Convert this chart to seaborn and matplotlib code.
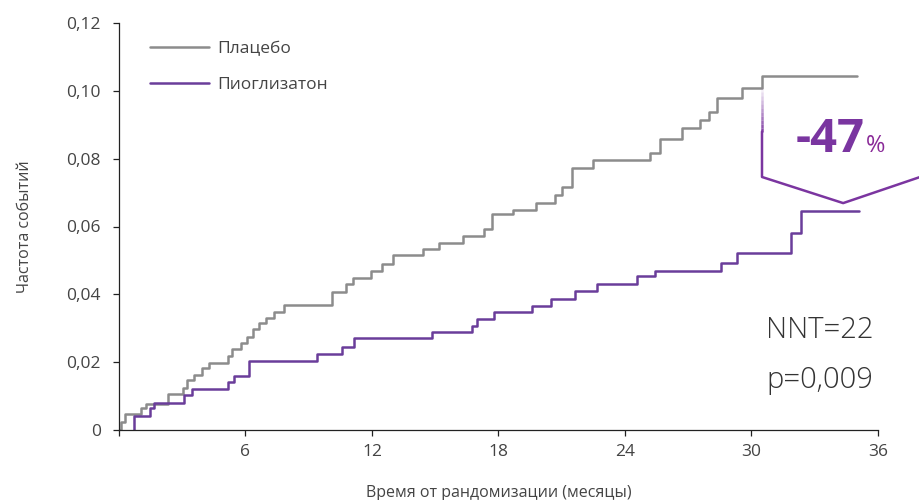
import numpy as np
import pandas as pd
import seaborn as sns
import matplotlib.pyplot as plt

# ================= DATA =================
placebo_t = [0, 0.1, 0.28, 1.04, 1.28, 2.32, 3.04, 3.22, 3.56, 3.94, 4.27, 5.17, 5.36, 5.79,
             6.07, 6.36, 6.64, 6.97, 7.35, 7.83, 10.1, 10.75, 11.1, 11.95, 12.5, 13.0, 14.4,
             15.2, 16.3, 17.3, 17.7, 18.7, 19.8, 20.7, 21.0, 21.5, 22.5, 25.2, 25.66, 26.7,
             27.56, 27.99, 28.37, 29.55, 30.5, 35.0]
placebo_v = [0, 0.0024, 0.0047, 0.0065, 0.0077, 0.0106, 0.0124, 0.0147, 0.0162, 0.0183, 0.0198,
             0.0218, 0.0239, 0.0257, 0.0274, 0.0298, 0.0316, 0.0330, 0.0348, 0.0369, 0.0406,
             0.0430, 0.0448, 0.0469, 0.0490, 0.0516, 0.0534, 0.0551, 0.0572, 0.0593, 0.0637,
             0.0649, 0.0669, 0.0693, 0.0717, 0.0773, 0.0796, 0.0817, 0.0858, 0.0890, 0.0914,
             0.0938, 0.0979, 0.1008, 0.1044, 0.1044]

pio_t = [0.71, 0.71, 1.47, 1.66, 3.08, 3.46, 5.17, 5.46, 6.17, 9.39, 10.6, 11.15, 14.85, 16.75,
         16.98, 17.8, 19.6, 20.5, 21.63, 22.68, 24.57, 25.43, 28.56, 29.32, 31.88, 32.35, 35.1]
pio_v = [0, 0.0041, 0.0065, 0.0080, 0.0103, 0.0121, 0.0142, 0.0159, 0.0203, 0.0224, 0.0245,
         0.0271, 0.0289, 0.0307, 0.0327, 0.0348, 0.0366, 0.0386, 0.0410, 0.0431, 0.0454,
         0.0469, 0.0492, 0.0522, 0.0581, 0.0646, 0.0646]

groups = ["Плацебо", "Пиоглизатон"]
colors = {"Плацебо": "#8c8c8c", "Пиоглизатон": "#6a3d9a"}

x_ticks = [0, 6, 12, 18, 24, 30, 36]
x_ticklabels = ["", "6", "12", "18", "24", "30", "36"]
y_ticks = [0, 0.02, 0.04, 0.06, 0.08, 0.10, 0.12]
y_ticklabels = ["0", "0,02", "0,04", "0,06", "0,08", "0,10", "0,12"]

reduction = "-47"
nnt_text = "NNT=22"
p_text = "p=0,009"

df = pd.concat([
    pd.DataFrame({"t": placebo_t, "v": placebo_v, "group": groups[0]}),
    pd.DataFrame({"t": pio_t, "v": pio_v, "group": groups[1]}),
])

# ================= STYLE =================
sns.set_style("ticks")
plt.rcParams["font.family"] = ["Open Sans", "DejaVu Sans"]

fig = plt.figure(figsize=(9.2, 5), dpi=100)
ax = fig.add_axes([0.1293, 0.14, 0.825, 0.814])

sns.lineplot(data=df, x="t", y="v", hue="group", palette=colors, hue_order=groups,
             drawstyle="steps-post", linewidth=1.8, estimator=None, sort=False, ax=ax)

ax.set_xlim(0, 36)
ax.set_ylim(0, 0.12)
ax.set_xticks(x_ticks)
ax.set_xticklabels(x_ticklabels)
ax.set_yticks(y_ticks)
ax.set_yticklabels(y_ticklabels)
ax.tick_params(axis="both", labelsize=12.5, labelcolor="#444444", length=4, width=0.9, color="#222222")
ax.tick_params(axis="x", pad=6)
ax.tick_params(axis="y", pad=9)
for s in ["top", "right"]:
    ax.spines[s].set_visible(False)
for s in ["left", "bottom"]:
    ax.spines[s].set_color("#222222")
    ax.spines[s].set_linewidth(0.9)

ax.set_xlabel("Время от рандомизации (месяцы)", fontsize=11.5, color="#444444", labelpad=18)
ax.set_ylabel("Частота событий", fontsize=11.5, color="#444444", labelpad=24)

leg = ax.legend(loc="upper left", bbox_to_anchor=(0.02, 0.995), frameon=False, fontsize=12.5,
                handlelength=3.4, handletextpad=0.5, labelspacing=1.15)
for txt in leg.get_texts():
    txt.set_color("#444444")

# ================= ANNOTATION =================
bx = 30.5
top_y, bot_y = 0.1008, 0.0746
fade = np.linspace(top_y, 0.088, 12)
for i in range(len(fade) - 1):
    ax.plot([bx, bx], [fade[i], fade[i + 1]], color="#7b35a0", lw=1.8,
            alpha=(i + 1) / len(fade), solid_capstyle="butt")
ax.plot([bx, bx, 34.35, 38.0], [0.088, bot_y, 0.0669, 0.0746], color="#7b35a0", lw=1.8,
        clip_on=False)

ax.text(35.35, 0.0820, reduction, fontsize=34, fontweight="bold", color="#7a35a0",
        ha="right", va="baseline")
ax.text(35.45, 0.0820, "%", fontsize=17, color="#8a2a98", ha="left", va="baseline")

ax.text(30.7, 0.0271, nnt_text, fontsize=21, color="#333333", fontweight="light")
ax.text(30.7, 0.0124, p_text, fontsize=21, color="#333333", fontweight="light")

fig.savefig("out.png", dpi=100)
